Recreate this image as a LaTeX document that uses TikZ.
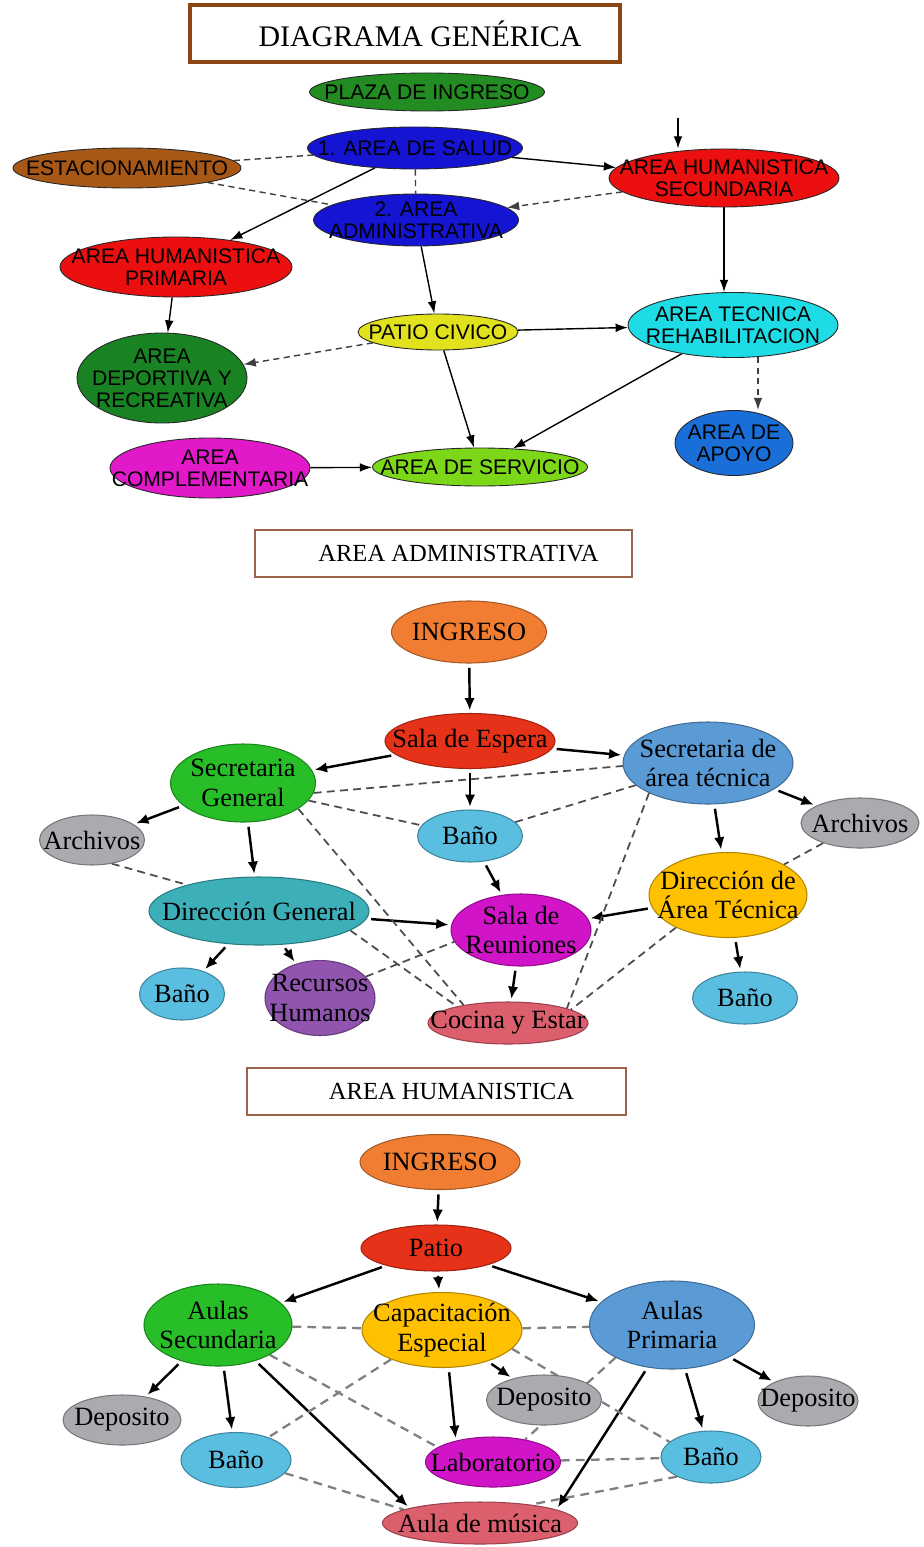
\documentclass[tikz,border=0pt]{standalone}
\usepackage{fontspec}
\setmainfont{Liberation Serif}
\newfontfamily\arialf{Liberation Sans}
\usetikzlibrary{shapes.geometric,arrows.meta,backgrounds}

\definecolor{marron}{RGB}{140,70,20}
\definecolor{marronsuave}{RGB}{155,100,75}
\definecolor{plaza}{RGB}{34,139,34}
\definecolor{azul}{RGB}{20,20,210}
\definecolor{cafe}{RGB}{168,88,22}
\definecolor{rojo}{RGB}{235,15,15}
\definecolor{amarillo}{RGB}{225,225,30}
\definecolor{cian}{RGB}{30,220,230}
\definecolor{verdeosc}{RGB}{25,130,35}
\definecolor{azulapoyo}{RGB}{25,110,215}
\definecolor{magenta}{RGB}{225,25,200}
\definecolor{lima}{RGB}{125,215,25}
\definecolor{naranja}{RGB}{240,125,50}
\definecolor{rojoesp}{RGB}{230,50,25}
\definecolor{acero}{RGB}{91,155,213}
\definecolor{verde}{RGB}{40,190,40}
\definecolor{gris}{RGB}{170,170,175}
\definecolor{celeste}{RGB}{90,190,225}
\definecolor{verdeazul}{RGB}{60,175,185}
\definecolor{fucsia}{RGB}{210,20,200}
\definecolor{oro}{RGB}{255,192,0}
\definecolor{morado}{RGB}{145,85,175}
\definecolor{rosa}{RGB}{220,95,110}

\begin{document}
\begin{tikzpicture}[x=0.02cm,y=-0.02cm,>={Latex[length=7pt,width=5pt]}]
    \tikzset{
        medida/.style 2 args={minimum width=#1*0.02cm,minimum height=#2*0.02cm},
        titulo/.style={rectangle,draw=#1,inner sep=0pt},
        zona/.style={ellipse,draw=black!85,line width=0.5pt,fill=#1,inner xsep=-3cm,inner ysep=-3cm,
            align=center,font=\arialf\fontsize{12}{12.5}\selectfont},
        espacio/.style={ellipse,draw=#1!70!black,line width=0.6pt,fill=#1,inner xsep=-3cm,inner ysep=-3cm,
            align=center,font=\fontsize{15}{17}\selectfont},
        flecha/.style={->,line width=0.8pt},
        enlace/.style={line width=0.8pt,black!75,dash pattern=on 3.5pt off 2.5pt},
        flecha2/.style={->,line width=1.4pt,shorten <=2.5pt,shorten >=1.5pt,>={Latex[length=7pt,width=6pt]}},
        enlace2/.style={line width=1pt,black!70,dash pattern=on 4.5pt off 3pt},
        enlace3/.style={line width=1.3pt,black!50,dash pattern=on 5pt off 3.5pt}
    }
    \useasboundingbox (0,0) rectangle (923,1547);

    % diagrama generico
    \node[titulo=marron,line width=1.8pt,medida={430}{57},font=\fontsize{17}{17}\selectfont] (t1) at (405,33.5) {\hspace{0.6cm}DIAGRAMA GENÉRICA};
    \node[zona=plaza,medida={235}{38}] (pi) at (427,92) {PLAZA DE INGRESO};
    \node[zona=azul,medida={215}{42}] (sal) at (415,148) {1. AREA DE SALUD};
    \node[zona=cafe,medida={228}{40}] (est) at (127,168) {ESTACIONAMIENTO};
    \node[zona=rojo,medida={230}{58}] (hs) at (724,178) {AREA HUMANISTICA\\SECUNDARIA};
    \node[zona=azul,medida={205}{52}] (adm) at (416,220) {2. AREA\\ADMINISTRATIVA};
    \node[zona=rojo,medida={232}{60}] (hp) at (176,267) {AREA HUMANISTICA\\PRIMARIA};
    \node[zona=amarillo,medida={160}{36}] (pc) at (438,332) {PATIO CIVICO};
    \node[zona=cian,medida={210}{65}] (at) at (733,325) {AREA TECNICA\\REHABILITACION};
    \node[zona=verdeosc,medida={170}{90}] (dp) at (162,378) {AREA\\DEPORTIVA Y\\RECREATIVA};
    \node[zona=azulapoyo,medida={118}{65}] (ap) at (734,443) {AREA DE\\APOYO};
    \node[zona=magenta,medida={200}{60}] (cm) at (210,468) {AREA\\COMPLEMENTARIA};
    \node[zona=lima,medida={215}{38}] (sv) at (480,467) {AREA DE SERVICIO};
    \coordinate (entrada) at (678,118);

    % area administrativa
    \node[titulo=marronsuave,line width=1.3pt,medida={377}{47},font=\fontsize{14}{14}\selectfont] (t2) at (443.5,553.5) {\hspace{0.6cm}AREA ADMINISTRATIVA};
    \node[espacio=naranja,medida={155}{62}] (ing) at (469,632) {INGRESO};
    \node[espacio=rojoesp,medida={170}{55}] (se) at (470,741) {Sala de Espera};
    \node[espacio=acero,medida={170}{82}] (st) at (708,763) {Secretaria de\\área técnica};
    \node[espacio=verde,medida={145}{78}] (sg) at (243,783) {Secretaria\\General};
    \node[espacio=gris,medida={105}{50}] (arl) at (92,840) {Archivos};
    \node[espacio=gris,medida={118}{50}] (arr) at (860,823) {Archivos};
    \node[espacio=celeste,medida={105}{52}] (bc) at (470,836) {Baño};
    \node[espacio=verdeazul,medida={220}{68}] (dg) at (259,911) {Dirección General};
    \node[espacio=fucsia,medida={140}{72}] (sr) at (521,930) {Sala de\\Reuniones};
    \node[espacio=oro,medida={158}{85}] (dt) at (728,895) {Dirección de\\Área Técnica};
    \node[espacio=celeste,medida={85}{52}] (bl) at (182,994) {Baño};
    \node[espacio=morado,medida={110}{75}] (rh) at (320,998) {Recursos\\Humanos};
    \node[espacio=rosa,medida={160}{42}] (ce) at (508,1023) {Cocina y Estar};
    \node[espacio=celeste,medida={105}{52}] (br) at (745,998) {Baño};

    % area humanistica
    \node[titulo=marronsuave,line width=1.3pt,medida={379}{47},font=\fontsize{14}{14}\selectfont] (t3) at (436.5,1091.5) {\hspace{0.6cm}AREA HUMANISTICA};
    \node[espacio=naranja,medida={160}{55}] (ing2) at (440,1162) {INGRESO};
    \node[espacio=rojoesp,medida={150}{46}] (pat) at (436,1248) {Patio};
    \node[espacio=verde,medida={148}{82}] (as) at (218,1325) {Aulas\\Secundaria};
    \node[espacio=oro,medida={160}{75}] (cap) at (442,1330) {Capacitación\\Especial};
    \node[espacio=acero,medida={165}{88}] (apr) at (672,1325) {Aulas\\Primaria};
    \node[espacio=gris,medida={118}{50}] (dl) at (122,1420) {Deposito};
    \node[espacio=celeste,medida={110}{55}] (bl2) at (236,1460) {Baño};
    \node[espacio=gris,medida={115}{50}] (dc) at (544,1400) {Deposito};
    \node[espacio=gris,medida={100}{50}] (dr) at (808,1401) {Deposito};
    \node[espacio=fucsia,medida={135}{50}] (lab) at (493,1462) {Laboratorio};
    \node[espacio=celeste,medida={100}{52}] (br2) at (711,1457) {Baño};
    \node[espacio=rosa,medida={195}{42}] (mus) at (480,1523) {Aula de música};

    \begin{scope}[on background layer]
    \fill[white] (0,0) rectangle (923,1547);
    \draw[enlace] (est) -- (sal);
    \draw[enlace] (est) -- (adm);
    \draw[enlace] (sal) -- (adm);
    \draw[flecha] (sal) -- (hp);
    \draw[flecha] (sal) -- (hs);
    \draw[flecha] (entrada) -- (entrada |- hs.north);
    \draw[enlace,->] (hs) -- (adm);
    \draw[flecha] (hs.south) -- (hs.south |- at.north);
    \draw[flecha] (adm) -- (pc);
    \draw[flecha] (hp) -- (dp);
    \draw[enlace,->] (pc) -- (dp);
    \draw[flecha] (pc) -- (at);
    \draw[flecha] (pc) -- (sv);
    \draw[flecha] (at) -- (sv);
    \draw[enlace,->] (at.-52) -- (at.-52 |- ap.north);
    \draw[flecha] (cm) -- (sv);

    \draw[flecha2] (ing) -- (se);
    \draw[flecha2] (se) -- (sg);
    \draw[flecha2] (se) -- (st);
    \draw[flecha2] (se) -- (bc);
    \draw[flecha2] (sg) -- (arl);
    \draw[flecha2] (sg) -- (dg);
    \draw[flecha2] (st) -- (arr);
    \draw[flecha2] (st) -- (dt);
    \draw[flecha2] (dt) -- (sr);
    \draw[flecha2] (dt) -- (br);
    \draw[flecha2] (bc) -- (sr);
    \draw[flecha2] (dg) -- (sr);
    \draw[flecha2] (dg) -- (bl);
    \draw[flecha2] (dg) -- (rh);
    \draw[flecha2] (sr) -- (ce);
    \draw[enlace2] (sg.-8) -- (st.182);
    \draw[enlace2] (sg.-15) -- (bc);
    \draw[enlace2] (sg.-25) -- (ce.158);
    \draw[enlace2] (bc) -- (st);
    \draw[enlace2] (st.207) -- (ce.14);
    \draw[enlace2] (dt.212) -- (ce.12);
    \draw[enlace2] (arr) -- (dt);
    \draw[enlace2] (arl.-50) -- (dg.160);
    \draw[enlace2] (dg.-12) -- (ce.162);
    \draw[enlace2] (rh.25) -- (sr.190);

    \draw[flecha2] (ing2) -- (pat);
    \draw[flecha2] (pat) -- (as);
    \draw[flecha2] (pat) -- (cap);
    \draw[flecha2] (pat) -- (apr);
    \draw[flecha2] (as) -- (dl);
    \draw[flecha2] (as) -- (bl2);
    \draw[flecha2] (as) -- (mus.168);
    \draw[flecha2] (cap) -- (dc);
    \draw[flecha2] (cap.-80) -- (lab.150);
    \draw[flecha2] (apr) -- (dr);
    \draw[flecha2] (apr) -- (br2);
    \draw[flecha2] (apr.240) -- (mus.10);
    \draw[enlace3] (as) -- (cap);
    \draw[enlace3] (cap) -- (apr);
    \draw[enlace3] (cap.210) -- (bl2.35);
    \draw[enlace3] (as.-30) -- (lab.165);
    \draw[enlace3] (cap.-15) -- (br2.160);
    \draw[enlace3] (apr.210) -- (lab.35);
    \draw[enlace3] (lab) -- (br2);
    \draw[enlace3] (br2.210) -- (mus.20);
    \draw[enlace3] (bl2.-15) -- (mus.170);
    \end{scope}
\end{tikzpicture}
\end{document}
